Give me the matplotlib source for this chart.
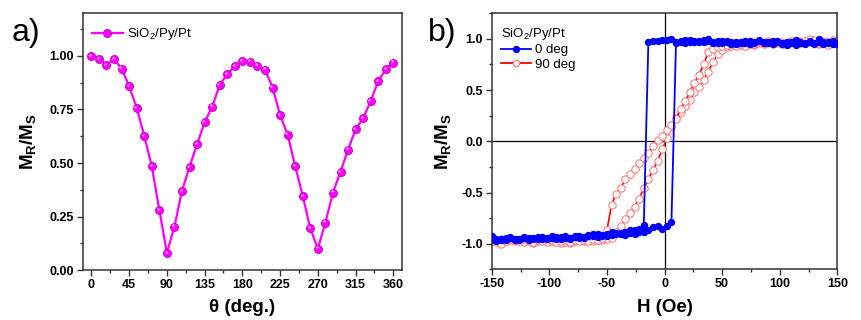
import matplotlib
matplotlib.use("Agg")
import matplotlib.pyplot as plt
from matplotlib.ticker import MultipleLocator
from matplotlib.transforms import offset_copy

plt.rcParams['font.family'] = ['Liberation Sans', 'DejaVu Sans']
plt.rcParams['mathtext.fontset'] = 'custom'
plt.rcParams['mathtext.rm'] = 'Liberation Sans'
plt.rcParams['mathtext.bf'] = 'Liberation Sans:bold'
plt.rcParams['mathtext.it'] = 'Liberation Sans:italic'
plt.rcParams['axes.unicode_minus'] = False

# panel a: remanence ratio vs in-plane angle
theta = [0, 9, 18, 27, 36, 45, 54, 63, 72, 81, 90, 99, 108, 117, 126, 135,
         144, 153, 162, 171, 180, 189, 198, 207, 216, 225, 234, 243, 252,
         261, 270, 279, 288, 297, 306, 315, 324, 333, 342, 351, 360]
mr_ms = [0.998, 0.986, 0.958, 0.986, 0.941, 0.860, 0.758, 0.627, 0.485,
         0.281, 0.080, 0.203, 0.370, 0.482, 0.588, 0.690, 0.763, 0.864,
         0.916, 0.952, 0.975, 0.973, 0.955, 0.936, 0.852, 0.724, 0.632,
         0.485, 0.346, 0.195, 0.100, 0.222, 0.362, 0.459, 0.563, 0.657,
         0.710, 0.789, 0.883, 0.938, 0.969]

# panel b: hysteresis loops, field values shared by all branches
field = [-150, -146, -142, -138, -134, -130, -126, -122, -118, -114, -110,
         -106, -102, -98, -94, -90, -86, -82, -78, -74, -70, -66, -62, -58,
         -54, -50, -46, -42, -38, -34, -30, -26, -22, -18, -14, -10, -6, -2,
         2, 6, 10, 14, 18, 22, 26, 30, 34, 38, 42, 46, 50, 54, 58, 62, 66,
         70, 74, 78, 82, 86, 90, 94, 98, 102, 106, 110, 114, 118, 122, 126,
         130, 134, 138, 142, 146, 150]

deg0_up = [-0.95, -0.97, -0.95, -0.96, -0.94, -0.96, -0.95, -0.94, -0.96,
           -0.94, -0.95, -0.93, -0.95, -0.94, -0.93, -0.95, -0.92, -0.94,
           -0.93, -0.92, -0.94, -0.91, -0.92, -0.90, -0.92, -0.90, -0.91,
           -0.89, -0.90, -0.88, -0.89, -0.87, -0.88, -0.88, -0.87, -0.84,
           -0.83, -0.86, -0.83, -0.79, 0.97, 0.98, 0.96, 0.99, 0.97, 0.98,
           0.97, 1.00, 0.97, 0.96, 0.98, 0.97, 0.95, 0.97, 0.96, 0.98, 0.95,
           0.97, 0.99, 0.96, 0.97, 0.95, 0.98, 0.96, 0.94, 0.97, 0.99, 0.96,
           0.95, 0.97, 0.96, 1.00, 0.97, 0.96, 0.98, 0.96]
deg0_down = [-0.92, -0.95, -0.96, -0.94, -0.93, -0.95, -0.96, -0.93, -0.94,
             -0.95, -0.93, -0.95, -0.94, -0.92, -0.95, -0.93, -0.94, -0.95,
             -0.92, -0.94, -0.93, -0.92, -0.90, -0.93, -0.91, -0.92, -0.88,
             -0.90, -0.89, -0.91, -0.87, -0.90, -0.86, -0.82, 0.97, 0.98,
             0.98, 0.99, 0.99, 1.00, 0.96, 0.97, 0.99, 0.97, 0.98, 0.97, 0.99,
             0.98, 0.96, 0.98, 0.96, 0.98, 0.97, 0.95, 0.97, 0.96, 0.98, 0.96,
             0.98, 0.97, 0.96, 0.98, 0.97, 0.95, 0.97, 0.96, 0.94, 0.97, 0.96,
             0.98, 0.95, 0.97, 0.95, 0.97, 0.95, 0.95]
deg90_up = [-0.97, -0.98, -1.00, -0.97, -0.96, -0.97, -0.96, -0.98, -0.97,
            -0.99, -0.97, -0.96, -0.98, -0.97, -0.96, -0.99, -0.98, -0.99,
            -0.97, -0.96, -0.97, -0.96, -0.97, -0.96, -0.96, -0.95, -0.94,
            -0.88, -0.83, -0.76, -0.70, -0.64, -0.56, -0.46, -0.37, -0.28,
            -0.19, -0.08, 0.03, 0.14, 0.23, 0.29, 0.34, 0.40, 0.48, 0.53,
            0.60, 0.68, 0.77, 0.85, 0.89, 0.92, 0.93, 0.93, 0.94, 0.93, 0.95,
            0.94, 0.96, 0.95, 0.97, 0.95, 0.96, 0.97, 0.95, 0.97, 0.96, 0.98,
            0.96, 1.00, 0.97, 0.95, 0.97, 0.94, 0.98, 0.98]
deg90_down = [-0.95, -0.96, -0.95, -0.97, -0.95, -0.96, -0.97, -0.95, -0.96,
              -0.98, -0.96, -0.97, -0.95, -0.96, -0.98, -0.97, -0.95, -0.98,
              -0.96, -0.97, -0.96, -0.97, -0.95, -0.96, -0.94, -0.87, -0.62,
              -0.51, -0.46, -0.37, -0.32, -0.27, -0.21, -0.16, -0.11, -0.05,
              0.01, 0.05, 0.11, 0.16, 0.22, 0.31, 0.39, 0.48, 0.57, 0.65,
              0.75, 0.87, 0.90, 0.92, 0.93, 0.94, 0.95, 0.96, 0.95, 0.97, 0.96,
              0.95, 0.97, 0.96, 0.98, 0.96, 0.97, 0.95, 0.96, 0.98, 0.97, 0.96,
              0.98, 0.97, 0.99, 0.96, 0.98, 0.97, 0.99, 0.98]


def style_axes(ax):
    for sp in ax.spines.values():
        sp.set_linewidth(1.1)
        sp.set_color('#333333')
    ax.tick_params(which='both', direction='out', top=False, right=False,
                   width=1.0, color='#333333')
    ax.tick_params(which='major', length=4.5, labelsize=9, pad=2)
    ax.tick_params(which='minor', length=2.5)
    for lab in ax.get_xticklabels() + ax.get_yticklabels():
        lab.set_fontweight('bold')


fig = plt.figure(figsize=(8.61, 3.2), dpi=100)
ax1 = fig.add_axes([0.0964, 0.156, 0.3702, 0.803])
ax2 = fig.add_axes([0.5711, 0.158, 0.4014, 0.801])

# --- panel a ---
ax1.plot(theta, mr_ms, '-o', color='#ff00ff', lw=1.6, ms=5.8,
         markeredgecolor='#c400c4', markeredgewidth=0.6,
         label='SiO$_2$/Py/Pt')
hl = offset_copy(ax1.transData, fig=fig, x=-0.9, y=0.9, units='points')
ax1.plot(theta, mr_ms, 'o', color='#ffc8ff', ms=1.6, mew=0, transform=hl)
ax1.set_xlim(-10, 370)
ax1.set_ylim(0, 1.2)
ax1.xaxis.set_major_locator(MultipleLocator(45))
ax1.xaxis.set_minor_locator(MultipleLocator(22.5))
ax1.yaxis.set_major_locator(MultipleLocator(0.25))
ax1.yaxis.set_minor_locator(MultipleLocator(0.125))
ax1.yaxis.set_major_formatter('{x:.2f}')
style_axes(ax1)
ax1.set_xlabel(u'\u03b8 (deg.)', fontsize=13.5, fontweight='bold', labelpad=6)
ax1.set_ylabel(r'$\mathbf{M_R/M_S}$', fontsize=13.5, labelpad=8)
ax1.legend(loc='upper left', frameon=False, fontsize=9.5, handlelength=2.3,
           handletextpad=0.3, borderaxespad=0.3, bbox_to_anchor=(0.0, 0.985))

# --- panel b ---
ax2.axhline(0, color='black', lw=0.9, zorder=1)
ax2.axvline(0, color='black', lw=0.9, zorder=1)
ax2.plot(field, deg90_up, '-o', color='#ff0000', lw=1.2, ms=5.3,
         mfc='white', mec='#ff8080', mew=0.8, zorder=2)
ax2.plot(field, deg90_down, '-o', color='#ff0000', lw=1.2, ms=5.3,
         mfc='white', mec='#ff8080', mew=0.8, zorder=2)
ax2.plot(field, deg0_up, '-o', color='#0000ff', lw=1.3, ms=4.3,
         mec='#0000ff', zorder=3)
ax2.plot(field, deg0_down, '-o', color='#0000ff', lw=1.3, ms=4.3,
         mec='#0000ff', zorder=3)
h0, = ax2.plot([], [], '-o', color='#0000ff', lw=1.3, ms=4.3,
               label='0 deg')
h90, = ax2.plot([], [], '-o', color='#ff0000', lw=1.3, ms=4.5,
                mfc='white', mec='#ff8080', label='90 deg')
ax2.set_xlim(-150, 150)
ax2.set_ylim(-1.25, 1.25)
ax2.xaxis.set_major_locator(MultipleLocator(50))
ax2.xaxis.set_minor_locator(MultipleLocator(25))
ax2.yaxis.set_major_locator(MultipleLocator(0.5))
ax2.yaxis.set_minor_locator(MultipleLocator(0.25))
ax2.yaxis.set_major_formatter('{x:.1f}')
style_axes(ax2)
ax2.set_xlabel('H (Oe)', fontsize=13.5, fontweight='bold', labelpad=6)
ax2.set_ylabel(r'$\mathbf{M_R/M_S}$', fontsize=13.5, labelpad=6)
leg = ax2.legend(handles=[h0, h90], title='SiO$_2$/Py/Pt', loc='upper left',
                 frameon=False, fontsize=9.5, title_fontsize=9.5,
                 handlelength=2.3, handletextpad=0.3, labelspacing=0.15,
                 borderaxespad=0.3, alignment='left',
                 bbox_to_anchor=(0.0, 0.985))

fig.text(0.014, 0.872, 'a)', fontsize=23, va='baseline')
fig.text(0.497, 0.872, 'b)', fontsize=23, va='baseline')

fig.savefig('out.png', dpi=100)
